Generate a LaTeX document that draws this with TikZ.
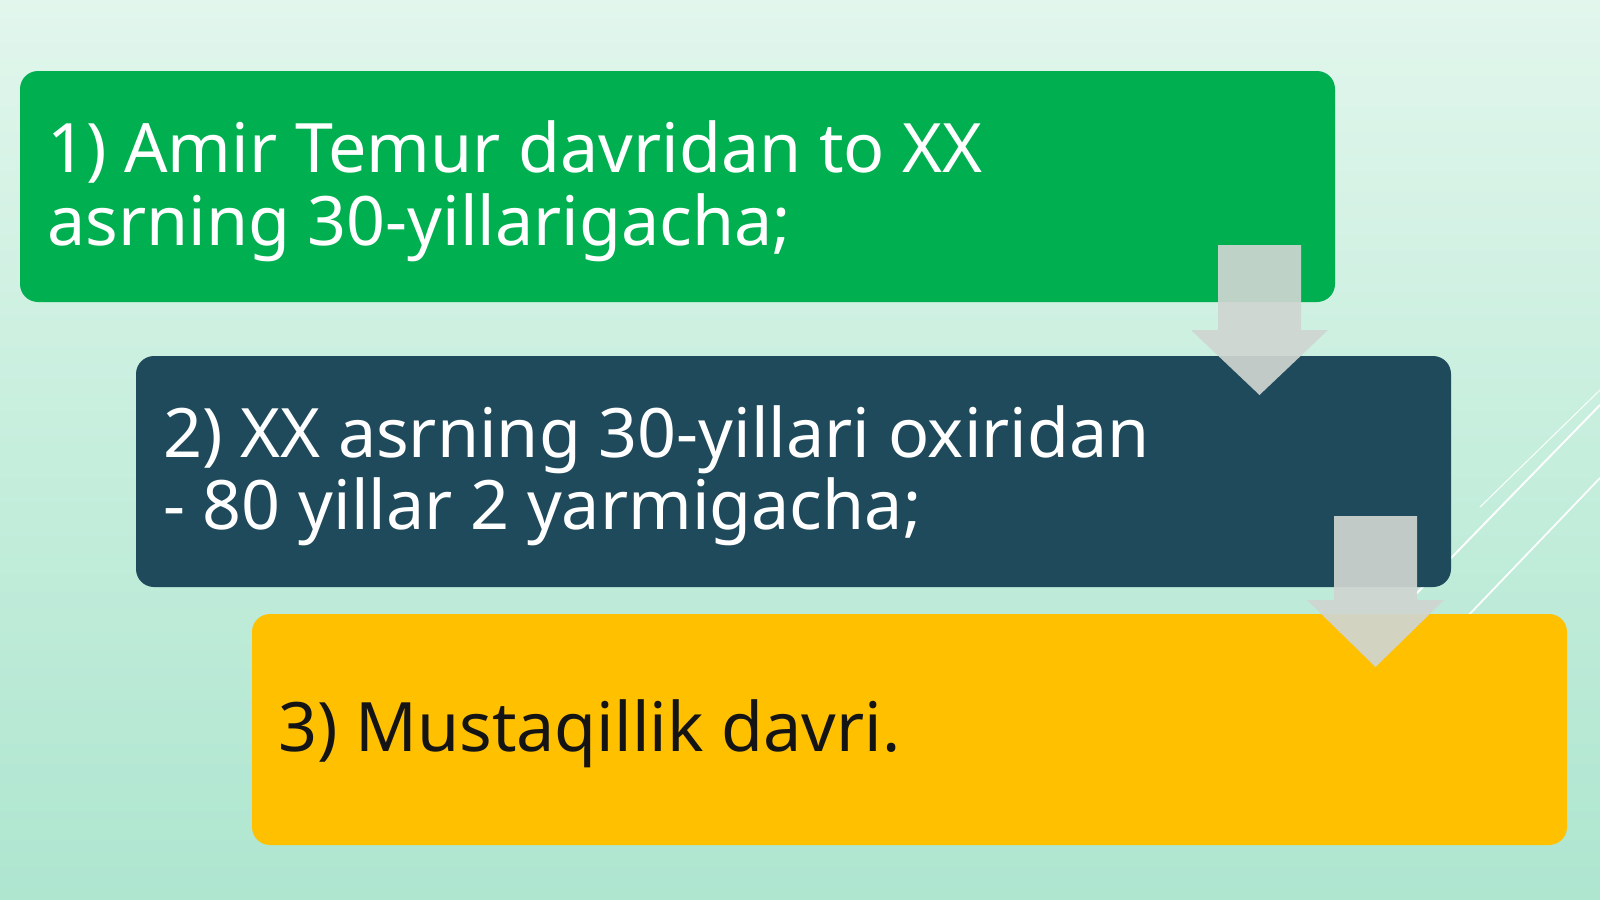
\documentclass[tikz,border=0pt]{standalone}
\usepackage{fontspec}
\setmainfont{Noto Sans}
\definecolor{bgA}{HTML}{B6EAD5}
\definecolor{bgB}{HTML}{A3E2CA}
\definecolor{bgC}{HTML}{C6EEDD}
\definecolor{bgD}{HTML}{EAF8F1}
\definecolor{bgE}{HTML}{F7FDFA}
\definecolor{boxgreen}{HTML}{00B050}
\definecolor{boxdark}{HTML}{1F4A5B}
\definecolor{boxyellow}{HTML}{FFC000}
\definecolor{arrowgray}{HTML}{D0D5D2}
\pgfdeclareverticalshading{bgshade}{100bp}{color(0bp)=(bgA); color(13bp)=(bgB); color(50bp)=(bgC); color(82bp)=(bgD); color(100bp)=(bgE)}
\tikzset{
  stepbox/.style={rounded corners=18pt},
  steptext/.style={anchor=base west, inner sep=0pt, font=\fontsize{68.2pt}{73pt}\selectfont},
  downarrow/.style={fill=arrowgray, fill opacity=0.92},
  deco/.style={draw=white, draw opacity=0.95, line cap=round}
}
\begin{document}
\begin{tikzpicture}[x=1pt,y=-1pt]
\useasboundingbox (0,0) rectangle (1600,899);
\fill[shading=bgshade] (0,0) rectangle (1600,899);
% decorative lines
\draw[deco, line width=1pt] (1480,507) -- (1600,390);
\draw[deco, line width=2pt] (1415,595) -- (1600,405);
\draw[deco, line width=1.8pt] (1440,645) -- (1600,478);
% boxes
\fill[stepbox, fill=boxgreen] (20,71) rectangle (1335,302);
\fill[stepbox, fill=boxdark] (136,356) rectangle (1451,587);
\fill[stepbox, fill=boxyellow] (252,614) rectangle (1567,845);
% texts
\node[steptext, text=white] (t1a) at (47,172) {1) Amir Temur davridan to XX};
\node[steptext, text=white] (t1b) at (47,245) {asrning 30-yillarigacha;};
\node[steptext, text=white] (t2a) at (163,457) {2) XX asrning 30-yillari oxiridan};
\node[steptext, text=white] (t2b) at (163,529) {- 80 yillar 2 yarmigacha;};
\node[steptext, text=black!92] (t3) at (278,751) {3) Mustaqillik davri.};
% arrows
\fill[downarrow] (1218,245) -- (1301,245) -- (1301,330) -- (1328,330) -- (1259.5,395) -- (1191,330) -- (1218,330) -- cycle;
\fill[downarrow] (1334,516) -- (1417,516) -- (1417,600) -- (1444,600) -- (1375.5,667) -- (1307,600) -- (1334,600) -- cycle;
\end{tikzpicture}
\end{document}
